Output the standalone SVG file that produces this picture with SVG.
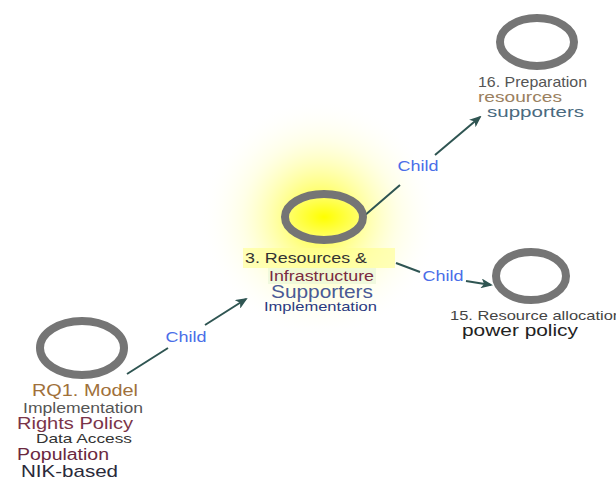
<svg xmlns="http://www.w3.org/2000/svg" width="616" height="480" viewBox="0 0 616 480">
<style>
text{font-family:"Liberation Sans",Arial,sans-serif}
.ring{fill:none;stroke:#757575;stroke-width:8}
.edge{stroke:#2f5552;stroke-width:2;fill:none;marker-end:url(#arr)}
.lbl{fill:#4a6ee8;font-size:15px}
</style>
<defs>
<marker id="arr" markerWidth="12" markerHeight="10" refX="10" refY="5" orient="auto" markerUnits="userSpaceOnUse">
<path d="M0,0 L12,5 L0,10 L3,5 Z" fill="#2f5552"/>
</marker>
<radialGradient id="glow" cx="320" cy="218" r="120" gradientUnits="userSpaceOnUse">
<stop offset="0" stop-color="#ffff00" stop-opacity="0.95"/>
<stop offset="0.3" stop-color="#ffff40" stop-opacity="0.6"/>
<stop offset="0.65" stop-color="#ffffa0" stop-opacity="0.25"/>
<stop offset="1" stop-color="#ffffff" stop-opacity="0"/>
</radialGradient>
<radialGradient id="core" cx="0.5" cy="0.5" r="0.5">
<stop offset="0" stop-color="#ffff00"/>
<stop offset="1" stop-color="#ffff70"/>
</radialGradient>
</defs>
<rect width="616" height="480" fill="#ffffff"/>
<ellipse cx="320" cy="218" rx="125" ry="115" fill="url(#glow)"/>
<g id="connectors">
<path class="edge" d="M127,374 L168,348 M205,325 L246,299"/>
<path class="edge" d="M364,216 L400,185 M435,155 L480,117"/>
<path class="edge" d="M396,263 L420,272 M466,281 L491,285"/>
<text class="lbl" x="186" y="342" text-anchor="middle" textLength="41" lengthAdjust="spacingAndGlyphs">Child</text>
<text class="lbl" x="418" y="171" text-anchor="middle" textLength="41" lengthAdjust="spacingAndGlyphs">Child</text>
<text class="lbl" x="443" y="281" text-anchor="middle" textLength="41" lengthAdjust="spacingAndGlyphs">Child</text>
</g>
<g id="node-rq1">
<ellipse class="ring" cx="82" cy="348" rx="42" ry="27"/>
<text x="32" y="396" font-size="17" fill="#a0703a" textLength="106" lengthAdjust="spacingAndGlyphs">RQ1. Model</text>
<text x="23" y="413" font-size="14" fill="#555" textLength="120" lengthAdjust="spacingAndGlyphs">Implementation</text>
<text x="17" y="429" font-size="16" fill="#7a3448" textLength="116" lengthAdjust="spacingAndGlyphs">Rights Policy</text>
<text x="36" y="443" font-size="13.5" fill="#333" textLength="96" lengthAdjust="spacingAndGlyphs">Data Access</text>
<text x="17" y="460" font-size="16" fill="#6a2840" textLength="92" lengthAdjust="spacingAndGlyphs">Population</text>
<text x="21" y="477" font-size="17" fill="#2a2a3a" textLength="97" lengthAdjust="spacingAndGlyphs">NIK-based</text>
</g>
<g id="node-3">
<ellipse cx="324" cy="217" rx="38" ry="23" fill="url(#core)"/>
<ellipse class="ring" cx="324" cy="217" rx="39" ry="23"/>
<rect x="243" y="248" width="152" height="20" fill="#ffff90" opacity="0.6"/>
<rect x="268" y="268" width="108" height="16" fill="#eaf6d8" opacity="0.7"/>
<text x="245" y="263" font-size="15" fill="#333" textLength="122" lengthAdjust="spacingAndGlyphs">3. Resources &amp;</text>
<text x="269" y="281" font-size="14" fill="#7a2a40" textLength="105" lengthAdjust="spacingAndGlyphs">Infrastructure</text>
<text x="271" y="298" font-size="19" fill="#4a5a96" textLength="102" lengthAdjust="spacingAndGlyphs">Supporters</text>
<text x="264" y="311" font-size="13.5" fill="#2a3a80" textLength="113" lengthAdjust="spacingAndGlyphs">Implementation</text>
</g>
<g id="node-16">
<ellipse class="ring" cx="537" cy="42" rx="37" ry="24"/>
<text x="478" y="87" font-size="15" fill="#555" textLength="109" lengthAdjust="spacingAndGlyphs">16. Preparation</text>
<text x="478" y="102" font-size="15" fill="#9a8060" textLength="84" lengthAdjust="spacingAndGlyphs">resources</text>
<text x="487" y="117" font-size="15" fill="#4a6a80" textLength="97" lengthAdjust="spacingAndGlyphs">supporters</text>
</g>
<g id="node-15">
<ellipse class="ring" cx="531" cy="276" rx="35" ry="24"/>
<text x="450" y="320" font-size="13.5" fill="#444" textLength="172" lengthAdjust="spacingAndGlyphs">15. Resource allocation</text>
<text x="462" y="336" font-size="17" fill="#222" textLength="116" lengthAdjust="spacingAndGlyphs">power policy</text>
</g>
</svg>
